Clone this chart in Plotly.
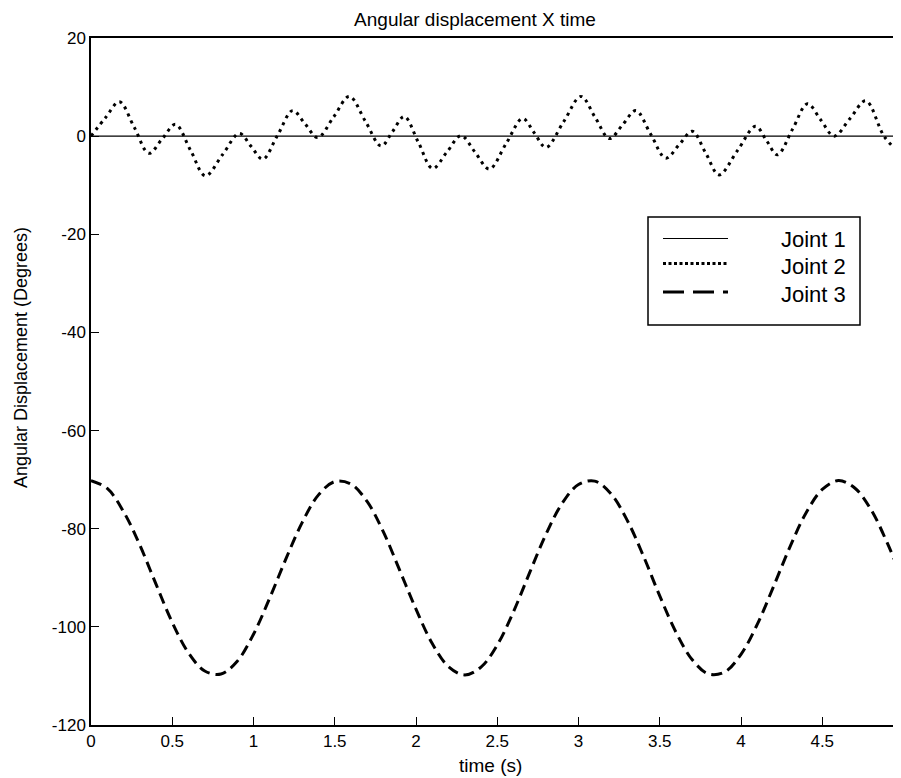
import plotly.graph_objects as go

# ---------------- data ----------------
t_joint1 = [0.0, 5.0]
joint1 = [0.0, 0.0]

t_joint2 = [0.0, 0.09, 0.175, 0.266, 0.356, 0.438, 0.52, 0.612, 0.704, 0.809,
            0.913, 0.985, 1.057, 1.149, 1.241, 1.318, 1.395, 1.493, 1.59, 1.688,
            1.785, 1.857, 1.928, 2.015, 2.102, 2.19, 2.277, 2.364, 2.451, 2.554,
            2.656, 2.728, 2.80, 2.908, 3.015, 3.103, 3.19, 3.272, 3.353, 3.445,
            3.537, 3.619, 3.70, 3.783, 3.865, 3.978, 4.09, 4.157, 4.224, 4.317,
            4.409, 4.491, 4.573, 4.671, 4.768, 4.88, 4.97]
joint2 = [0.0, 3.8, 7.0, 1.8, -3.5, -0.55, 2.4, -2.85, -8.1, -3.78,
          0.55, -2.08, -4.7, 0.25, 5.2, 2.45, -0.3, 3.9, 8.1, 3.05,
          -2.0, 1.0, 4.0, -1.3, -6.6, -3.25, 0.1, -3.3, -6.7, -1.55,
          3.6, 0.65, -2.3, 2.9, 8.1, 3.8, -0.5, 2.35, 5.2, 0.35,
          -4.5, -1.75, 1.0, -3.45, -7.9, -2.95, 2.0, -0.9, -3.8, 1.4,
          6.6, 3.3, 0.0, 3.6, 7.2, 0.0, -3.3]

t_joint3 = [0.0, 0.1, 0.2, 0.3, 0.4, 0.5, 0.6, 0.7, 0.8, 0.9,
            1.0, 1.1, 1.2, 1.3, 1.4, 1.5, 1.6, 1.7, 1.8, 1.9,
            2.0, 2.1, 2.2, 2.3, 2.4, 2.5, 2.6, 2.7, 2.8, 2.9,
            3.0, 3.1, 3.2, 3.3, 3.4, 3.5, 3.6, 3.7, 3.8, 3.9,
            4.0, 4.1, 4.2, 4.3, 4.4, 4.5, 4.6, 4.7, 4.8, 4.9, 5.0]
joint3 = [-70.2, -71.8, -76.5, -83.3, -91.3, -99.1, -105.3, -109.0, -109.6, -107.0,
          -101.5, -94.1, -86.1, -78.7, -73.1, -70.4, -70.9, -74.5, -80.7, -88.5,
          -96.4, -103.4, -108.1, -109.8, -108.2, -103.7, -96.9, -88.9, -81.1, -74.8,
          -71.0, -70.3, -72.9, -78.3, -85.6, -93.7, -101.1, -106.7, -109.6, -109.2,
          -105.6, -99.5, -91.8, -83.8, -76.8, -72.0, -70.2, -71.7, -76.1, -82.9, -90.9]

series_names = ["Joint 1", "Joint 2", "Joint 3"]

x_ticks = [0, 0.5, 1, 1.5, 2, 2.5, 3, 3.5, 4, 4.5, 5]
x_tick_labels = ["0", "0.5", "1", "1.5", "2", "2.5", "3", "3.5", "4", "4.5", "5"]
y_ticks = [-120, -100, -80, -60, -40, -20, 0, 20]
y_tick_labels = ["-120", "-100", "-80", "-60", "-40", "-20", "0", "20"]

# ---------------- layout geometry (screen pixels) ----------------
# the page body has an 8px default margin, so the figure is drawn 8px in
OFF = 8
W_FIG, H_FIG = 901, 770
PL, PR, PT, PB = 91, 909, 38, 725          # plot area on screen (right side runs past the window)
PW = PR - PL
PH = PB - PT
L = PL - OFF
T = PT - OFF
R = W_FIG - (PR - OFF)
B = H_FIG - (PB - OFF)
X_PER_PX = 1 / 162.5                       # seconds per pixel


def px(x):
    return (x - PL) / PW


def py(y):
    return (PB - y) / PH


FONT = "Arial, Liberation Sans, Helvetica, sans-serif"

dash1 = "solid"
dash2 = "3px,4.5px"
dash3 = "11px,6px"

fig = go.Figure()
fig.add_trace(go.Scatter(x=t_joint1, y=joint1, mode="lines", name=series_names[0],
                         line=dict(color="black", width=1.2, dash=dash1)))
fig.add_trace(go.Scatter(x=t_joint2, y=joint2, mode="lines", name=series_names[1],
                         line=dict(color="black", width=3, dash=dash2, shape="spline", smoothing=1.0)))
fig.add_trace(go.Scatter(x=t_joint3, y=joint3, mode="lines", name=series_names[2],
                         line=dict(color="black", width=3, dash=dash3, shape="spline", smoothing=1.0)))

axis_common = dict(
    showgrid=False, zeroline=False, showline=True, linecolor="black", linewidth=1.5,
    mirror=True, ticks="inside", tickcolor="black", tickwidth=1, ticklen=8,
    tickfont=dict(family=FONT, size=17, color="black"), automargin=False,
)

fig.update_xaxes(range=[0, PW * X_PER_PX], tickvals=x_ticks, ticktext=x_tick_labels, **axis_common)
fig.update_yaxes(range=[-120, 20], tickvals=y_ticks, ticktext=y_tick_labels, **axis_common)

# manual legend (box, samples, labels)
shapes = [
    dict(type="rect", xref="paper", yref="paper", x0=px(648), x1=px(860), y0=py(325), y1=py(217),
         line=dict(color="black", width=1.5), fillcolor="white", layer="above"),
]
rows_y = [238.5, 263.5, 292]
dashes = [dash1, "3px,2.5px", "21px,9px"]
widths = [1.2, 3, 3]
for ry, d, w in zip(rows_y, dashes, widths):
    shapes.append(dict(type="line", xref="paper", yref="paper", x0=px(663), x1=px(728),
                       y0=py(ry), y1=py(ry), line=dict(color="black", width=w, dash=d), layer="above"))

annotations = []
for ry, name in zip([240, 266, 294], series_names):
    annotations.append(dict(text=name, xref="paper", yref="paper", x=px(848), y=py(ry),
                            xanchor="right", yanchor="middle", showarrow=False,
                            font=dict(family=FONT, size=22, color="black")))

annotations.append(dict(text="time (s)", xref="paper", yref="paper", x=px(490), y=py(765),
                        xanchor="center", yanchor="middle", showarrow=False,
                        font=dict(family=FONT, size=19, color="black")))
annotations.append(dict(text="Angular Displacement (Degrees)", xref="paper", yref="paper",
                        x=px(21), y=py(358), xanchor="center", yanchor="middle", textangle=-90,
                        showarrow=False, font=dict(family=FONT, size=18, color="black")))

fig.update_layout(
    width=W_FIG, height=H_FIG, autosize=False,
    margin=dict(l=L, r=R, t=T, b=B, pad=0, autoexpand=False),
    paper_bgcolor="white", plot_bgcolor="white",
    showlegend=False,
    title=dict(text="Angular displacement X time", x=(475 - OFF) / W_FIG, xref="container",
               xanchor="center", y=1 - (19 - OFF) / H_FIG, yref="container", yanchor="middle",
               font=dict(family=FONT, size=19, color="black")),
    shapes=shapes,
    annotations=annotations,
)

fig.write_html("out.html")
